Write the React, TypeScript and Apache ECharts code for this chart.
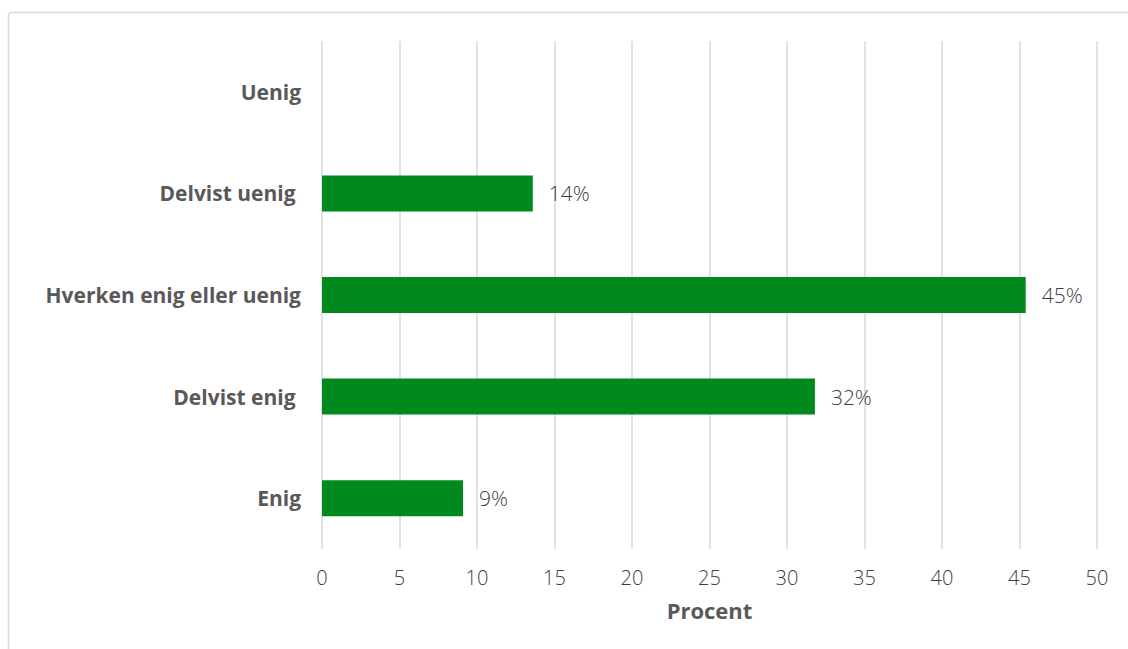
import React, { useEffect, useRef } from "react";
import * as echarts from "echarts";

const categories = ["Enig", "Delvist enig ", "Hverken enig eller uenig", "Delvist uenig ", "Uenig"];
const values: (number | null)[] = [9.1, 31.8, 45.4, 13.6, null];
const valueLabels = ["9%", "32%", "45%", "14%", ""];

export default function App() {
  const ref = useRef<HTMLDivElement>(null);
  useEffect(() => {
    if (!ref.current) return;
    const chart = echarts.init(ref.current, null, { renderer: "svg" });
    const font = "'Open Sans', 'Noto Sans', sans-serif";
    chart.setOption({
      animation: false,
      textStyle: { fontFamily: font },
      graphic: [
        {
          type: "rect",
          shape: { x: 8.5, y: 12.5, width: 1200, height: 700, r: 3 },
          style: { fill: "none", stroke: "#d9d9d9", lineWidth: 1.5 },
          silent: true,
          z: -1,
        },
      ],
      grid: { left: 322, right: 31, top: 41, bottom: 100, containLabel: false },
      xAxis: {
        type: "value",
        min: 0,
        max: 50,
        interval: 5,
        name: "Procent",
        nameLocation: "middle",
        nameGap: 50,
        nameTextStyle: { color: "#595959", fontSize: 22, fontWeight: "bold", fontFamily: font },
        axisLine: { show: false },
        axisTick: { show: false },
        axisLabel: { color: "#404040", fontSize: 20, fontWeight: 300, margin: 18, fontFamily: font },
        splitLine: { show: true, lineStyle: { color: "#d9d9d9", width: 1.5 } },
      },
      yAxis: {
        type: "category",
        data: categories,
        axisLine: { show: false },
        axisTick: { show: false },
        axisLabel: { color: "#595959", fontSize: 21, fontWeight: "bold", margin: 21, fontFamily: font },
        splitLine: { show: false },
      },
      series: [
        {
          type: "bar",
          data: values,
          barWidth: 36,
          itemStyle: { color: "#008a1e" },
          label: {
            show: true,
            position: "right",
            distance: 16,
            color: "#404040",
            fontSize: 21,
            fontWeight: 300,
            fontFamily: font,
            formatter: (p: any) => valueLabels[p.dataIndex],
          },
        },
      ],
    });
    return () => chart.dispose();
  }, []);
  return (
    <div
      ref={ref}
      style={{ position: "absolute", left: 0, top: 0, width: 1128, height: 649, background: "#fff" }}
    />
  );
}
